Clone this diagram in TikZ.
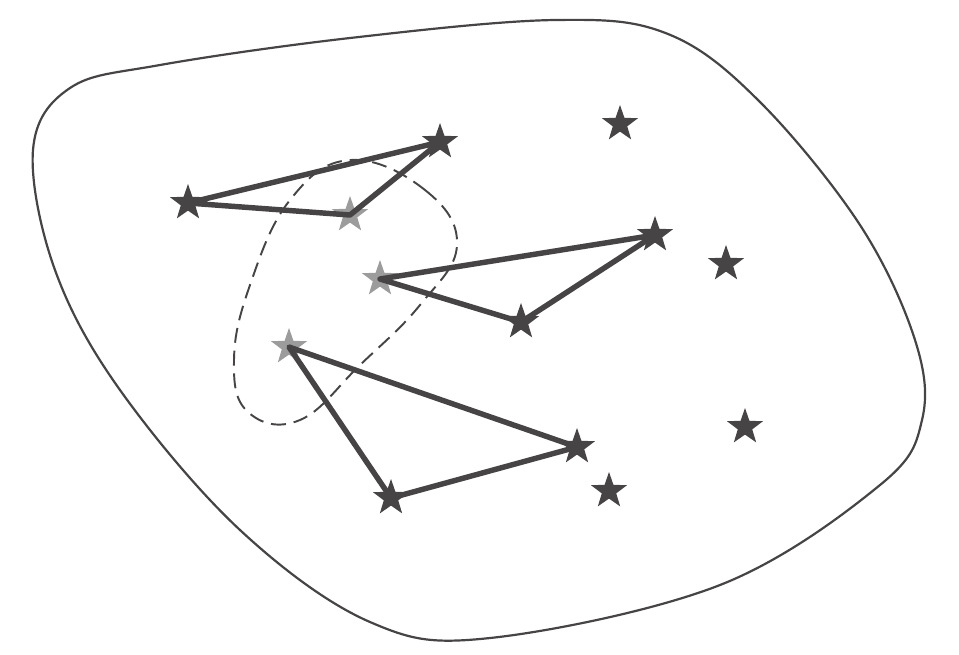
\documentclass[tikz,border=0pt]{standalone}
\usepackage{tikz}
\usetikzlibrary{shapes.geometric}

\definecolor{inkdark}{HTML}{464444}
\definecolor{inklight}{HTML}{9C9C9C}

\tikzset{
  dstar/.style={star, star points=5, star point ratio=2.5, minimum size=0.76cm,
    inner sep=0pt, fill=inkdark, draw=none},
  lstar/.style={dstar, fill=inklight},
  link/.style={inkdark, line width=3.1pt, line join=round, line cap=round},
}

\begin{document}
\begin{tikzpicture}[x=0.02cm, y=-0.02cm]

  \useasboundingbox (0,0) rectangle (959,654);

  % outer region
  \draw[inkdark, line width=1.25pt] plot[smooth cycle, tension=0.6] coordinates {
    (33,150) (70,88) (160,65) (350,38) (555,20) (668,34) (760,102) (860,225)
    (915,340) (922,420) (880,485) (720,585) (490,638) (370,622) (240,530)
    (120,390) (55,270)};

  % dashed region
  \draw[inkdark, line width=1.1pt, dash pattern=on 8.5pt off 4.5pt] plot[smooth cycle, tension=0.7] coordinates {
    (350,160) (425,190) (457,245) (420,305) (360,365) (300,420) (248,412)
    (234,360) (250,285) (290,200)};

  % stars
  \foreach \n/\x/\y/\s in {a/188/203/dstar, b/350/215/lstar, c/440/142/dstar,
      d/620/124/dstar, e/380/279/lstar, f/655/235/dstar, g/726/264/dstar,
      h/521/322/dstar, i/289/347/lstar, j/577/447/dstar, k/745/427/dstar,
      l/391/498/dstar, m/609/491/dstar} {
    \node[\s] (\n) at (\x,\y) {};
  }

  % triangles
  \draw[link] (a.center) -- (c.center) -- (b.center) -- cycle;
  \draw[link] (e.center) -- (f.center) -- (h.center) -- cycle;
  \draw[link] (i.center) -- (j.center) -- (l.center) -- cycle;

\end{tikzpicture}
\end{document}
